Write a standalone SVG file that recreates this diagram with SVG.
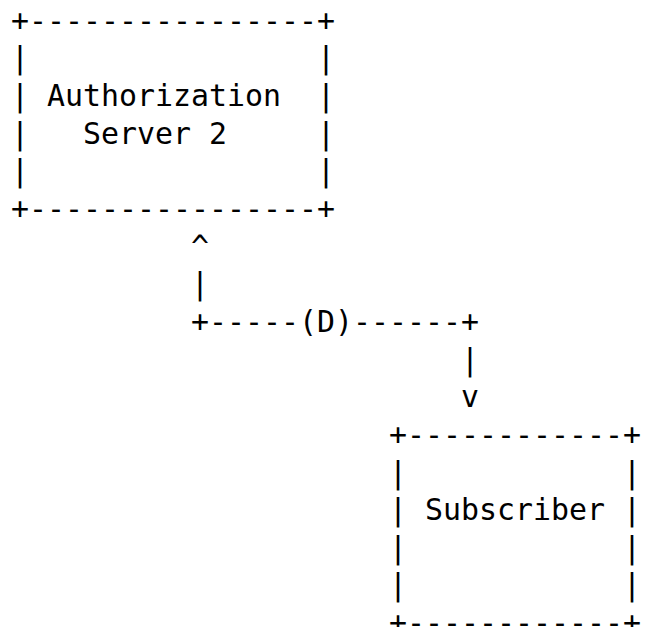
<svg xmlns="http://www.w3.org/2000/svg" width="645" height="627" viewBox="0 0 645 627">
<style>
  text { font-family: "DejaVu Sans Mono", "Liberation Mono", monospace; font-size: 29.9px; fill: #000; white-space: pre; }
</style>
<rect width="645" height="627" fill="#fff"/>
<g id="node-auth-server-2">
  <text x="11" y="30.7" xml:space="preserve">+----------------+</text>
  <text x="11" y="68.35" xml:space="preserve">|                |</text>
  <text x="11" y="106" xml:space="preserve">| Authorization  |</text>
  <text x="11" y="143.65" xml:space="preserve">|   Server 2     |</text>
  <text x="11" y="181.3" xml:space="preserve">|                |</text>
  <text x="11" y="218.95" xml:space="preserve">+----------------+</text>
</g>
<g id="connectors">
  <text x="191" y="256.6">^</text>
  <text x="191" y="294.25">|</text>
  <text x="191" y="331.9" xml:space="preserve">+-----(D)------+</text>
  <text x="461" y="369.55">|</text>
  <text x="461" y="407.2">v</text>
</g>
<g id="node-subscriber">
  <text x="389" y="444.85" xml:space="preserve">+------------+</text>
  <text x="389" y="482.5" xml:space="preserve">|            |</text>
  <text x="389" y="520.15" xml:space="preserve">| Subscriber |</text>
  <text x="389" y="557.8" xml:space="preserve">|            |</text>
  <text x="389" y="595.45" xml:space="preserve">|            |</text>
  <text x="389" y="633.1" xml:space="preserve">+------------+</text>
</g>
</svg>
